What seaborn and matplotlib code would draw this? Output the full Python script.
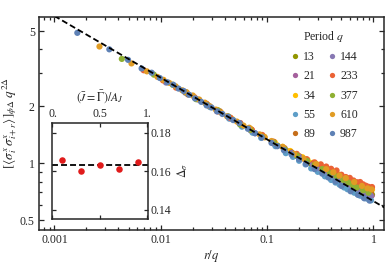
import numpy as np
import pandas as pd
import matplotlib
matplotlib.use("Agg")
import matplotlib.pyplot as plt
import seaborn as sns

# ── Data ───────────────────────────────────────────────────────
periods = [13, 21, 34, 55, 89, 144, 233, 377, 610, 987]
colors = ["#929600", "#A5609D", "#FFBF00", "#5D9EC8", "#C56E1A",
          "#8778B3", "#EB6235", "#8FB032", "#E19C24", "#5E81B5"]

x13 = [0.125, 0.19, 0.25, 0.31, 0.375, 0.44, 0.5, 0.56, 0.625, 0.69, 0.75, 0.81, 0.875, 0.92, 0.97]
y13 = [1.24, 1.09, 1.00, 0.94, 0.885, 0.845, 0.814, 0.787, 0.763, 0.742, 0.727, 0.710, 0.697, 0.688, 0.681]

x21 = [0.077, 0.115, 0.154, 0.19, 0.23, 0.27, 0.31, 0.345, 0.38, 0.42, 0.46, 0.5,
       0.54, 0.58, 0.62, 0.655, 0.69, 0.73, 0.77, 0.81, 0.85, 0.885, 0.92, 0.96]
y21 = [1.44, 1.27, 1.16, 1.09, 1.03, 0.98, 0.932, 0.905, 0.881, 0.855, 0.827, 0.81,
       0.793, 0.775, 0.758, 0.748, 0.739, 0.725, 0.713, 0.705, 0.697, 0.688, 0.679, 0.672]

x34 = [0.047, 0.071, 0.094, 0.118, 0.14, 0.165, 0.19, 0.215, 0.24, 0.27, 0.3, 0.34, 0.38,
       0.42, 0.47, 0.51, 0.56, 0.6, 0.65, 0.7, 0.74, 0.79, 0.83, 0.88, 0.92, 0.97]
y34 = [1.71, 1.51, 1.38, 1.29, 1.22, 1.16, 1.11, 1.075, 1.04, 1.005, 0.980, 0.947, 0.924,
       0.897, 0.870, 0.850, 0.829, 0.812, 0.798, 0.783, 0.771, 0.757, 0.749, 0.740, 0.731, 0.725]

x55 = [0.029, 0.044, 0.058, 0.073, 0.088, 0.12, 0.15, 0.175, 0.2, 0.23, 0.26, 0.3, 0.35,
       0.4, 0.44, 0.48, 0.53, 0.57, 0.62, 0.66, 0.71, 0.75, 0.8, 0.85, 0.9, 0.95]
y55 = [1.98, 1.72, 1.56, 1.45, 1.36, 1.23, 1.13, 1.08, 1.03, 0.985, 0.938, 0.90, 0.852,
       0.815, 0.790, 0.77, 0.744, 0.728, 0.714, 0.698, 0.683, 0.673, 0.664, 0.652, 0.645, 0.636]

x89 = [0.018, 0.027, 0.036, 0.045, 0.055, 0.07, 0.09, 0.115, 0.145, 0.17, 0.2, 0.235, 0.27, 0.31,
       0.35, 0.4, 0.45, 0.5, 0.55, 0.6, 0.65, 0.7, 0.75, 0.8, 0.85, 0.9, 0.95]
y89 = [2.31, 2.05, 1.88, 1.74, 1.62, 1.51, 1.39, 1.29, 1.19, 1.14, 1.09, 1.04, 0.994, 0.955,
       0.922, 0.887, 0.858, 0.835, 0.811, 0.790, 0.769, 0.755, 0.740, 0.728, 0.717, 0.707, 0.699]

x144 = [0.0112, 0.017, 0.0225, 0.028, 0.0337, 0.045, 0.056, 0.07, 0.09, 0.115, 0.146, 0.17, 0.2,
        0.235, 0.27, 0.31, 0.35, 0.4, 0.45, 0.5, 0.55, 0.6, 0.65, 0.7, 0.75, 0.8, 0.85, 0.9, 0.94]
y144 = [2.67, 2.36, 2.17, 2.02, 1.88, 1.73, 1.61, 1.49, 1.37, 1.28, 1.18, 1.13, 1.08,
        1.02, 0.984, 0.94, 0.905, 0.87, 0.842, 0.812, 0.788, 0.770, 0.754, 0.735, 0.720, 0.710,
        0.697, 0.686, 0.675]

x233 = [0.0069, 0.0105, 0.0139, 0.017, 0.0208, 0.027, 0.0347, 0.045, 0.056, 0.072, 0.09, 0.115,
        0.146, 0.19, 0.236, 0.28, 0.32, 0.36, 0.4, 0.45, 0.5, 0.55, 0.6, 0.65, 0.7, 0.75, 0.8,
        0.85, 0.9, 0.97]
y233 = [3.10, 2.74, 2.51, 2.38, 2.23, 2.06, 1.88, 1.74, 1.63, 1.50, 1.41, 1.30,
        1.20, 1.12, 1.05, 1.01, 0.986, 0.96, 0.934, 0.915, 0.869, 0.845, 0.836, 0.81, 0.793,
        0.795, 0.773, 0.76, 0.750, 0.748]

x377 = [0.0043, 0.0086, 0.0129, 0.0172, 0.0215, 0.027, 0.0343, 0.043, 0.0558, 0.07, 0.09, 0.115,
        0.146, 0.19, 0.236, 0.28, 0.33, 0.39, 0.45, 0.52, 0.58, 0.64, 0.7, 0.8, 0.9]
y377 = [3.56, 2.94, 2.60, 2.37, 2.18, 2.04, 1.91, 1.77, 1.60, 1.50, 1.38, 1.29,
        1.19, 1.10, 1.03, 0.98, 0.931, 0.885, 0.850, 0.815, 0.790, 0.765, 0.743, 0.719, 0.698]

x610 = [0.00265, 0.0053, 0.0074, 0.0093, 0.0106, 0.012, 0.0138, 0.0159, 0.0175, 0.02, 0.023, 0.026,
        0.029, 0.033, 0.037, 0.042, 0.052, 0.06, 0.068, 0.085, 0.095, 0.11, 0.14, 0.18, 0.22,
        0.29, 0.36, 0.42, 0.48, 0.55, 0.66, 0.78, 0.88, 0.96]
y610 = [4.14, 3.37, 3.06, 2.86, 2.76, 2.66, 2.55, 2.43, 2.37, 2.28, 2.17, 2.09,
        2.00, 1.92, 1.85, 1.77, 1.66, 1.58, 1.54, 1.42, 1.37, 1.31, 1.22, 1.12, 1.06,
        0.990, 0.93, 0.895, 0.86, 0.834, 0.795, 0.758, 0.736, 0.727]

x987 = [0.00164, 0.00328, 0.00492, 0.0066, 0.0082, 0.0098, 0.0115, 0.0131, 0.0147, 0.0164, 0.0185,
        0.021, 0.024, 0.027, 0.030, 0.034, 0.038, 0.043, 0.048, 0.055, 0.066, 0.077, 0.089, 0.11,
        0.125, 0.144, 0.17, 0.2, 0.233, 0.28, 0.33, 0.377, 0.44, 0.5, 0.61, 0.72, 0.82, 0.92]
y987 = [4.89, 4.00, 3.52, 3.17, 3.01, 2.82, 2.68, 2.60, 2.48, 2.41, 2.30,
        2.20, 2.11, 2.02, 1.97, 1.88, 1.82, 1.76, 1.69, 1.63, 1.52, 1.44, 1.37, 1.28,
        1.23, 1.17, 1.11, 1.05, 0.99, 0.93, 0.88, 0.840, 0.80, 0.758, 0.710, 0.680, 0.652, 0.634]

# inset: fitted exponent vs (J = Gamma)/A_J
inset_j = [0.1, 0.3, 0.5, 0.7, 0.9]
inset_delta = [0.1659, 0.1604, 0.1631, 0.1614, 0.1650]

line_amp = 0.63

# ── Style ──────────────────────────────────────────────────────
sns.set_style("ticks")
plt.rcParams["font.family"] = ["Liberation Serif", "DejaVu Serif"]
plt.rcParams["mathtext.fontset"] = "stix"
plt.rcParams["font.size"] = 8.5

xs = [x13, x21, x34, x55, x89, x144, x233, x377, x610, x987]
ys = [y13, y21, y34, y55, y89, y144, y233, y377, y610, y987]
df = pd.concat([pd.DataFrame({"rq": x, "corr": y, "q": str(q)})
                for q, x, y in zip(periods, xs, ys)], ignore_index=True)

fig = plt.figure(figsize=(3.9, 2.7), dpi=100)
ax = fig.add_axes([0.1, 0.148, 0.8846, 0.789])

sns.scatterplot(data=df, x="rq", y="corr", hue="q",
                hue_order=[str(q) for q in periods], palette=colors,
                s=20, linewidth=0, ax=ax, zorder=2)

delta_fit = np.mean(inset_delta)
xl = np.geomspace(6e-4, 1.4, 60)
ax.plot(xl, line_amp * xl ** (-2 * delta_fit), color="black", lw=1.3,
        dashes=(3.3, 1.7), zorder=3)

ax.set_xscale("log")
ax.set_yscale("log")
ax.set_xlim(0.000715, 1.258)
ax.set_ylim(0.443, 5.93)
ax.set_xticks([0.001, 0.01, 0.1, 1], ["0.001", "0.01", "0.1", "1"])
ax.set_yticks([0.5, 1, 2, 5], ["0.5", "1", "2", "5"])
ax.yaxis.set_minor_locator(matplotlib.ticker.FixedLocator(
    [0.6, 0.7, 0.8, 0.9, 3, 4]))
ax.yaxis.set_minor_formatter(matplotlib.ticker.NullFormatter())
ax.tick_params(which="both", direction="in", top=True, right=True,
               width=0.9, labelsize=8.5, pad=3)
ax.tick_params(which="major", length=3.5)
ax.tick_params(which="minor", length=2.2)
for sp in ax.spines.values():
    sp.set_linewidth(1.1)

ax.set_xlabel(r"$r/q$", fontsize=9, labelpad=1)
ax.set_ylabel(r"$[\langle\sigma^x_i\,\sigma^x_{i+r}\rangle]_{\phi\Delta}\;q^{2\Delta}$",
              fontsize=9.5, labelpad=1)

sns.move_legend(ax, "upper right", bbox_to_anchor=(0.955, 0.995), ncol=2,
                title=r"Period $q$", frameon=False, fontsize=8.5,
                title_fontsize=8.5, columnspacing=0.9, handletextpad=0.2,
                labelspacing=0.62, handlelength=1.0, markerscale=0.85)

# ── Inset ──────────────────────────────────────────────────────
axin = fig.add_axes([0.1333, 0.189, 0.246, 0.356])
axin.axhline(delta_fit, color="black", lw=1.3, dashes=(3.3, 1.7), zorder=1)
sns.scatterplot(x=inset_j, y=inset_delta, color="#e01b1b", s=22,
                linewidth=0, ax=axin, zorder=2)
axin.set_xlim(-0.005, 1.01)
axin.set_ylim(0.1353, 0.1852)
axin.set_xticks([0, 0.5, 1], ["0.", "0.5", "1."])
axin.set_yticks([0.14, 0.16, 0.18], ["0.14", "0.16", "0.18"])
axin.tick_params(direction="in", top=True, bottom=True, left=True, right=True,
                 labeltop=True, labelbottom=False, labelleft=False,
                 labelright=True, length=3, width=0.9, labelsize=8.5, pad=2)
axin.xaxis.set_label_position("top")
axin.yaxis.set_label_position("right")
axin.set_xlabel(r"$(\bar{J}=\bar{\Gamma})/A_J$", fontsize=8.5, labelpad=5)
axin.set_ylabel(r"$\Delta_\sigma$", fontsize=8.5, labelpad=3)
for sp in axin.spines.values():
    sp.set_linewidth(1.1)

fig.savefig("out.png", dpi=100)
